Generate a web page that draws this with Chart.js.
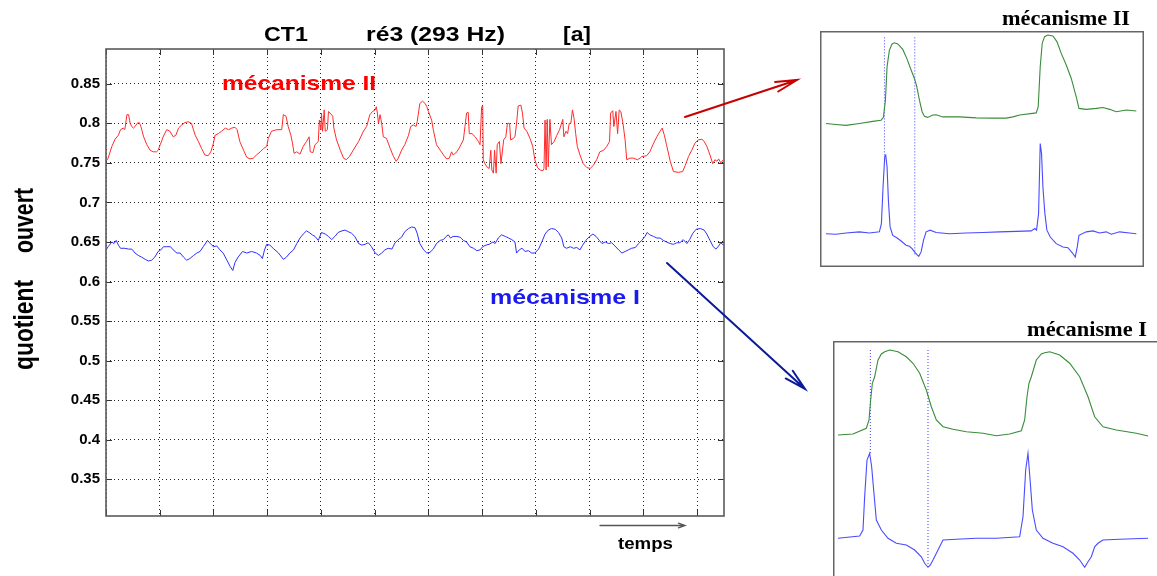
<!DOCTYPE html>
<html lang="fr">
<head>
<meta charset="utf-8">
<title>CT1 ré3 (293 Hz) – quotient ouvert</title>
<script src="https://cdn.jsdelivr.net/npm/chart.js@4.4.1/dist/chart.umd.min.js"></script>
<style>
  html, body { margin: 0; padding: 0; background: #fff; overflow: hidden; }
  #stage { position: relative; width: 1157px; height: 576px; overflow: hidden; }
  #stage canvas { position: absolute; }
  #main { left: 0; top: 0; }
  #insetII { left: 820px; top: 31px; }
  #insetI { left: 833px; top: 341px; }
</style>
</head>
<body>
<div id="stage">
  <canvas id="main" width="1157" height="576"></canvas>
  <canvas id="insetII" width="324" height="236"></canvas>
  <canvas id="insetI" width="340" height="250"></canvas>
</div>
<script>
// Quotient ouvert over time, [t (grid units), Oq]
const mecanismeII = [
  [0,0.752],[0.04,0.756],[0.11,0.771],[0.17,0.780],[0.23,0.785],[0.27,0.792],[0.32,0.794],[0.35,0.792],[0.39,0.811],[0.42,0.811],
  [0.45,0.800],[0.48,0.796],[0.51,0.794],[0.54,0.796],[0.58,0.800],[0.62,0.801],[0.65,0.796],[0.70,0.783],[0.76,0.773],[0.82,0.766],
  [0.88,0.764],[0.94,0.764],[0.97,0.766],[1.01,0.773],[1.07,0.784],[1.13,0.792],[1.19,0.790],[1.25,0.783],[1.30,0.785],[1.35,0.794],
  [1.41,0.798],[1.47,0.801],[1.53,0.802],[1.59,0.800],[1.66,0.785],[1.72,0.777],[1.78,0.768],[1.84,0.760],[1.90,0.759],[1.95,0.764],
  [2.00,0.775],[2.03,0.785],[2.09,0.787],[2.15,0.790],[2.22,0.794],[2.28,0.792],[2.34,0.794],[2.40,0.795],[2.44,0.792],[2.49,0.777],
  [2.56,0.766],[2.62,0.757],[2.68,0.755],[2.74,0.756],[2.80,0.760],[2.87,0.764],[2.93,0.768],[2.99,0.771],[3.02,0.781],[3.08,0.790],
  [3.18,0.792],[3.27,0.792],[3.30,0.811],[3.35,0.809],[3.39,0.796],[3.44,0.785],[3.47,0.775],[3.50,0.762],[3.55,0.764],[3.61,0.761],
  [3.67,0.771],[3.73,0.777],[3.78,0.783],[3.80,0.764],[3.85,0.763],[3.89,0.773],[3.95,0.777],[3.97,0.804],[4.00,0.792],[4.01,0.813],
  [4.03,0.790],[4.06,0.817],[4.08,0.790],[4.12,0.792],[4.14,0.815],[4.17,0.813],[4.22,0.809],[4.24,0.794],[4.29,0.779],[4.36,0.766],
  [4.42,0.756],[4.47,0.754],[4.53,0.758],[4.60,0.766],[4.70,0.777],[4.79,0.790],[4.85,0.796],[4.91,0.811],[4.96,0.815],[5.01,0.817],
  [5.03,0.821],[5.05,0.813],[5.07,0.800],[5.10,0.811],[5.13,0.800],[5.16,0.783],[5.22,0.781],[5.29,0.768],[5.35,0.758],[5.40,0.752],
  [5.44,0.756],[5.50,0.766],[5.56,0.773],[5.63,0.785],[5.67,0.796],[5.72,0.798],[5.77,0.796],[5.79,0.802],[5.84,0.825],[5.89,0.828],
  [5.94,0.825],[5.97,0.821],[6.00,0.815],[6.06,0.804],[6.09,0.792],[6.15,0.773],[6.22,0.766],[6.28,0.760],[6.34,0.755],[6.39,0.756],
  [6.43,0.764],[6.46,0.760],[6.53,0.764],[6.59,0.771],[6.65,0.779],[6.68,0.796],[6.71,0.813],[6.74,0.814],[6.76,0.787],[6.81,0.787],
  [6.87,0.783],[6.93,0.777],[6.96,0.773],[6.99,0.821],[7.01,0.822],[7.02,0.754],[7.05,0.749],[7.10,0.744],[7.13,0.743],[7.16,0.766],
  [7.18,0.741],[7.21,0.737],[7.23,0.766],[7.26,0.737],[7.28,0.773],[7.32,0.777],[7.35,0.749],[7.40,0.779],[7.44,0.783],[7.47,0.800],
  [7.51,0.800],[7.53,0.779],[7.58,0.781],[7.61,0.783],[7.64,0.800],[7.67,0.822],[7.72,0.823],[7.75,0.813],[7.78,0.794],[7.83,0.790],
  [7.89,0.781],[7.94,0.771],[7.98,0.754],[8.03,0.744],[8.08,0.741],[8.13,0.740],[8.15,0.743],[8.17,0.804],[8.19,0.741],[8.21,0.805],
  [8.23,0.745],[8.26,0.805],[8.29,0.773],[8.34,0.777],[8.39,0.785],[8.44,0.792],[8.50,0.805],[8.52,0.783],[8.56,0.790],[8.59,0.787],
  [8.62,0.800],[8.65,0.800],[8.68,0.817],[8.71,0.806],[8.74,0.787],[8.77,0.771],[8.82,0.760],[8.88,0.749],[8.95,0.744],[9.01,0.743],
  [9.07,0.747],[9.13,0.754],[9.19,0.764],[9.26,0.766],[9.32,0.771],[9.37,0.777],[9.39,0.813],[9.43,0.816],[9.45,0.796],[9.49,0.815],
  [9.52,0.787],[9.55,0.817],[9.58,0.815],[9.62,0.800],[9.66,0.779],[9.69,0.754],[9.75,0.756],[9.81,0.756],[9.89,0.754],[9.94,0.756],
  [9.97,0.758],[10.06,0.759],[10.12,0.764],[10.19,0.775],[10.25,0.783],[10.31,0.790],[10.35,0.794],[10.39,0.785],[10.43,0.773],[10.50,0.752],
  [10.56,0.739],[10.65,0.738],[10.73,0.739],[10.78,0.747],[10.84,0.758],[10.90,0.766],[10.96,0.775],[11.02,0.779],[11.09,0.780],[11.13,0.777],
  [11.18,0.771],[11.24,0.760],[11.29,0.749],[11.33,0.754],[11.37,0.752],[11.40,0.755],[11.44,0.750],[11.49,0.754]
];

const mecanismeI = [
  [0,0.640],[0.04,0.644],[0.11,0.650],[0.15,0.648],[0.19,0.652],[0.23,0.646],[0.27,0.642],[0.35,0.642],[0.42,0.641],[0.48,0.641],
  [0.54,0.636],[0.60,0.633],[0.66,0.631],[0.73,0.628],[0.79,0.626],[0.85,0.627],[0.91,0.631],[0.97,0.638],[1.02,0.640],[1.07,0.644],
  [1.13,0.644],[1.20,0.644],[1.25,0.640],[1.32,0.636],[1.38,0.636],[1.44,0.631],[1.50,0.627],[1.56,0.629],[1.63,0.633],[1.69,0.636],
  [1.75,0.638],[1.81,0.644],[1.89,0.652],[1.94,0.648],[2.00,0.644],[2.06,0.645],[2.12,0.640],[2.18,0.636],[2.25,0.627],[2.31,0.619],
  [2.36,0.614],[2.40,0.624],[2.46,0.631],[2.54,0.638],[2.62,0.636],[2.71,0.638],[2.80,0.636],[2.87,0.633],[2.91,0.629],[2.95,0.640],
  [2.99,0.647],[3.05,0.646],[3.11,0.642],[3.21,0.636],[3.30,0.628],[3.36,0.631],[3.42,0.636],[3.49,0.640],[3.55,0.648],[3.61,0.655],
  [3.67,0.660],[3.73,0.664],[3.78,0.662],[3.84,0.659],[3.89,0.657],[3.95,0.652],[4.01,0.662],[4.08,0.660],[4.14,0.657],[4.20,0.653],
  [4.26,0.657],[4.32,0.662],[4.39,0.664],[4.45,0.665],[4.51,0.663],[4.57,0.661],[4.63,0.657],[4.70,0.648],[4.76,0.646],[4.82,0.647],
  [4.88,0.649],[4.94,0.644],[5.01,0.636],[5.07,0.633],[5.13,0.636],[5.19,0.640],[5.25,0.642],[5.32,0.641],[5.38,0.649],[5.44,0.653],
  [5.50,0.656],[5.56,0.663],[5.63,0.667],[5.69,0.669],[5.75,0.668],[5.79,0.661],[5.84,0.648],[5.91,0.640],[5.97,0.636],[6.03,0.637],
  [6.09,0.641],[6.15,0.648],[6.22,0.652],[6.28,0.653],[6.33,0.657],[6.37,0.659],[6.41,0.655],[6.46,0.657],[6.53,0.657],[6.59,0.656],
  [6.65,0.652],[6.71,0.650],[6.77,0.644],[6.84,0.642],[6.90,0.639],[6.96,0.640],[7.01,0.644],[7.07,0.646],[7.13,0.647],[7.20,0.650],
  [7.24,0.648],[7.30,0.655],[7.36,0.659],[7.43,0.657],[7.49,0.655],[7.55,0.653],[7.61,0.650],[7.64,0.636],[7.69,0.640],[7.74,0.642],
  [7.80,0.638],[7.86,0.639],[7.92,0.636],[7.98,0.636],[8.05,0.641],[8.11,0.650],[8.17,0.660],[8.23,0.665],[8.29,0.667],[8.36,0.666],
  [8.42,0.662],[8.48,0.655],[8.52,0.644],[8.57,0.642],[8.64,0.644],[8.70,0.642],[8.76,0.643],[8.82,0.640],[8.87,0.646],[8.93,0.652],
  [9.00,0.657],[9.06,0.660],[9.12,0.657],[9.18,0.652],[9.23,0.648],[9.29,0.650],[9.35,0.648],[9.41,0.649],[9.47,0.645],[9.54,0.640],
  [9.60,0.636],[9.66,0.638],[9.72,0.640],[9.78,0.642],[9.85,0.643],[9.91,0.648],[9.97,0.652],[10.03,0.657],[10.07,0.662],[10.12,0.659],
  [10.19,0.657],[10.25,0.655],[10.31,0.655],[10.37,0.652],[10.43,0.650],[10.50,0.648],[10.56,0.647],[10.62,0.649],[10.68,0.649],[10.74,0.653],
  [10.81,0.648],[10.86,0.653],[10.92,0.661],[10.98,0.666],[11.06,0.667],[11.13,0.665],[11.18,0.660],[11.24,0.652],[11.30,0.644],[11.35,0.641],
  [11.40,0.645],[11.44,0.649],[11.49,0.646]
];

// EGG (green) and DEGG (blue) over two glottal cycles, arbitrary units 0..100
const eggII = [
  [1.85,60.8],[4.94,60.4],[8.03,60.0],[12.15,60.8],[16.27,61.7],[18.85,62.2],[19.57,63.4],[20.19,70.7],[20.70,84.9],[21.42,91.9],
  [22.25,94.5],[22.97,95.0],[24.00,94.5],[25.54,92.2],[26.78,88.4],[28.12,83.5],[29.15,79.9],[29.87,76.4],[30.69,70.7],[31.51,65.8],
  [32.23,63.9],[33.26,63.4],[34.81,64.4],[35.84,64.5],[37.90,63.6],[43.05,63.6],[48.20,63.2],[53.35,63.1],[57.47,63.1],[59.53,63.6],
  [61.59,64.4],[66.74,65.3],[67.35,67.9],[67.97,84.9],[68.59,94.8],[69.31,97.6],[70.34,98.3],[71.88,97.9],[73.12,95.5],[74.46,90.5],
  [76.00,85.6],[77.55,79.9],[79.09,72.1],[79.92,67.2],[82.18,66.8],[85.27,67.2],[87.33,67.6],[89.39,66.8],[91.45,65.8],[94.54,66.5],
  [97.63,66.1]
];
const deggII = [
  [1.85,14.1],[4.94,13.9],[8.03,14.4],[12.15,14.9],[15.24,14.4],[18.33,14.9],[18.95,18.4],[19.46,33.9],[19.98,46.7],[20.29,47.4],
  [20.70,42.4],[21.11,28.3],[21.63,17.0],[22.45,13.4],[23.69,12.4],[25.03,11.0],[26.57,9.2],[27.60,8.8],[28.42,7.8],[29.15,6.4],
  [29.87,5.4],[30.48,4.5],[31.21,6.4],[31.93,11.3],[32.75,14.9],[33.99,15.6],[35.84,14.6],[39.96,14.1],[45.11,14.4],[50.26,14.6],
  [55.41,14.9],[60.56,15.1],[65.19,15.3],[66.32,16.3],[66.84,15.6],[67.46,22.6],[67.97,52.3],[68.38,48.1],[68.80,33.9],[69.41,22.6],
  [70.03,15.6],[71.06,12.7],[72.91,9.9],[74.97,8.5],[76.52,8.2],[78.06,5.7],[78.78,4.2],[79.40,8.5],[79.92,13.4],[82.18,14.9],
  [84.24,15.3],[86.30,14.4],[88.36,14.9],[89.91,13.9],[92.48,14.9],[95.57,14.4],[97.63,14.1]
];
// closing / opening instants: [t, top, bottom]
const instantsII = [[19.88, 97.3, 46.7], [29.25, 97.3, 5.0]];

const eggI = [
  [1.47,62.4],[5.88,62.8],[9.80,65.1],[10.59,68.4],[11.08,76.4],[11.57,83.1],[12.25,85.7],[13.24,92.4],[14.22,94.8],[15.20,95.7],
  [16.67,96.4],[19.12,95.7],[21.57,93.7],[23.53,91.1],[25.49,87.1],[27.45,80.4],[28.92,73.7],[30.39,68.4],[32.35,65.7],[35.29,64.7],
  [39.22,63.7],[44.12,63.1],[48.04,62.1],[51.96,62.8],[55.39,64.1],[56.37,68.4],[57.06,77.7],[57.65,83.1],[58.33,85.7],[59.80,92.4],
  [61.27,94.8],[62.25,95.3],[63.73,95.7],[66.67,94.4],[69.61,91.1],[72.55,85.7],[75.00,77.7],[76.96,69.7],[79.41,65.7],[83.33,64.4],
  [89.22,63.1],[92.65,62.0]
];
const deggI = [
  [1.47,21.1],[7.84,22.0],[8.82,24.4],[9.31,37.7],[10.00,52.4],[10.78,55.1],[11.37,49.7],[11.96,40.4],[12.75,28.4],[14.22,24.4],
  [16.18,21.1],[18.63,19.1],[21.57,18.4],[24.02,16.4],[25.98,13.7],[26.96,11.1],[27.94,9.5],[28.63,10.4],[29.41,12.4],[30.88,16.4],
  [32.35,20.4],[36.27,20.7],[42.16,21.1],[48.04,21.1],[54.90,21.7],[55.88,29.7],[56.67,48.4],[57.35,55.1],[58.04,43.1],[58.63,32.4],
  [59.80,24.4],[61.76,21.1],[64.71,19.1],[67.65,17.7],[70.59,15.1],[72.55,12.4],[74.02,9.5],[75.00,11.7],[75.98,13.7],[76.96,17.7],
  [77.94,19.1],[79.41,20.4],[84.31,20.7],[92.65,21.1]
];
const instantsI = [[10.98, 96.4, 55.1], [27.94, 96.4, 9.7]];

const Y_MIN = 0.3035, Y_MAX = 0.894, Y_STEP = 0.05;
const T_MAX = 11.5;

const SANS = '"Liberation Sans", Arial, Helvetica, sans-serif';
const SERIF = '"Liberation Serif", "Times New Roman", serif';

const toXY = (pts) => pts.map(([x, y]) => ({ x, y }));

// draw text stretched to a target width (the figure's fonts run wide)
function fitText(ctx, text, x, y, width, font, color, opts = {}) {
  ctx.save();
  ctx.font = font;
  ctx.fillStyle = color;
  ctx.textBaseline = 'alphabetic';
  ctx.textAlign = 'left';
  const w = ctx.measureText(text).width;
  ctx.translate(x, y);
  if (opts.rotate) ctx.rotate(opts.rotate);
  ctx.scale(width / w, opts.sy || 1);
  ctx.fillText(text, 0, 0);
  ctx.restore();
}

function arrow(ctx, x1, y1, x2, y2, color, lw, head, spread) {
  const a = Math.atan2(y1 - y2, x1 - x2);
  ctx.save();
  ctx.strokeStyle = color;
  ctx.lineWidth = lw;
  ctx.lineCap = 'round';
  ctx.beginPath();
  ctx.moveTo(x1, y1);
  ctx.lineTo(x2, y2);
  ctx.moveTo(x2 + head * Math.cos(a + spread), y2 + head * Math.sin(a + spread));
  ctx.lineTo(x2, y2);
  ctx.lineTo(x2 + head * Math.cos(a - spread), y2 + head * Math.sin(a - spread));
  ctx.stroke();
  ctx.restore();
}

// box round the axes, with matlab-style inward ticks
const framePlugin = {
  id: 'frame',
  afterDatasetsDraw(chart) {
    const { ctx, chartArea: a, scales } = chart;
    ctx.save();
    ctx.strokeStyle = '#333';
    ctx.lineWidth = 1;
    ctx.beginPath();
    scales.y.ticks.forEach((t) => {
      const y = Math.round(scales.y.getPixelForValue(t.value)) + 0.5;
      ctx.moveTo(a.left, y); ctx.lineTo(a.left + 6, y);
      ctx.moveTo(a.right, y); ctx.lineTo(a.right - 6, y);
    });
    scales.x.ticks.forEach((t) => {
      const x = Math.round(scales.x.getPixelForValue(t.value)) + 0.5;
      ctx.moveTo(x, a.top); ctx.lineTo(x, a.top + 6);
      ctx.moveTo(x, a.bottom); ctx.lineTo(x, a.bottom - 6);
    });
    ctx.stroke();
    ctx.strokeStyle = '#5a5a5a';
    ctx.lineWidth = 1.6;
    ctx.strokeRect(a.left, a.top, a.right - a.left, a.bottom - a.top);
    ctx.restore();
  },
};

// titles, labels and pointer arrows
const notesPlugin = {
  id: 'notes',
  afterDraw(chart) {
    const { ctx } = chart;
    const bold = (px) => `bold ${px}px ${SANS}`;

    fitText(ctx, 'CT1', 264, 41, 44, bold(20), '#000');
    fitText(ctx, 'ré3 (293 Hz)', 366, 41, 139, bold(20), '#000');
    fitText(ctx, '[a]', 563, 41, 28, bold(20), '#000');

    fitText(ctx, 'mécanisme II', 222, 89.5, 154, bold(21), '#ff0000');
    fitText(ctx, 'mécanisme I', 490, 304, 150, bold(21), '#1a1aee');

    fitText(ctx, 'ouvert', 33, 253, 65, bold(21), '#000', { rotate: -Math.PI / 2, sy: 1.3 });
    fitText(ctx, 'quotient', 33, 370, 90, bold(21), '#000', { rotate: -Math.PI / 2, sy: 1.3 });

    fitText(ctx, 'temps', 618, 549, 55, bold(16), '#000');
    arrow(ctx, 600, 525.5, 685, 525.5, '#555', 1.3, 7, 0.35);

    fitText(ctx, 'mécanisme II', 1002, 25, 128, `bold 20px ${SERIF}`, '#000');
    fitText(ctx, 'mécanisme I', 1027, 336, 120, `bold 20px ${SERIF}`, '#000');

    arrow(ctx, 685, 117, 797, 80, '#c80000', 2, 22, 0.23);
    arrow(ctx, 667, 263, 805, 389, '#0c1a9a', 2, 22, 0.24);
  },
};

new Chart(document.getElementById('main'), {
  type: 'line',
  data: {
    datasets: [
      { data: toXY(mecanismeII), borderColor: '#ff2b2b', borderWidth: 1, pointRadius: 0, tension: 0 },
      { data: toXY(mecanismeI), borderColor: '#2e2eff', borderWidth: 1, pointRadius: 0, tension: 0 },
    ],
  },
  options: {
    responsive: false,
    animation: false,
    devicePixelRatio: 1,
    layout: { padding: { left: 0, top: 49, right: 433, bottom: 60 } },
    plugins: { legend: { display: false }, tooltip: { enabled: false } },
    scales: {
      x: {
        type: 'linear',
        min: 0,
        max: T_MAX,
        afterFit: (s) => { s.height = 0; },
        ticks: { display: false, stepSize: 1, includeBounds: false },
        grid: { color: '#222', lineWidth: 1, drawTicks: false },
        border: { display: false, dash: [1, 3] },
      },
      y: {
        min: Y_MIN,
        max: Y_MAX,
        afterFit: (s) => { s.width = 106; },
        ticks: {
          stepSize: Y_STEP,
          includeBounds: false,
          padding: 6,
          color: '#000',
          font: { family: SANS, size: 15, weight: 'bold' },
          callback: (v) => String(Number(v.toFixed(2))),
        },
        grid: { color: '#222', lineWidth: 1, drawTicks: false },
        border: { display: false, dash: [1, 3] },
      },
    },
  },
  plugins: [framePlugin, notesPlugin],
});

const insetFrame = {
  id: 'insetFrame',
  afterDraw(chart) {
    const { ctx, width, height } = chart;
    ctx.save();
    ctx.strokeStyle = '#666';
    ctx.lineWidth = 1.5;
    ctx.strokeRect(0.75, 0.75, width - 1.5, height - 1.5);
    ctx.restore();
  },
};

function insetChart(id, egg, degg, instants) {
  const trace = (pts, color) => ({ data: toXY(pts), borderColor: color, borderWidth: 1.1, pointRadius: 0, tension: 0 });
  return new Chart(document.getElementById(id), {
    type: 'line',
    data: {
      datasets: [
        trace(egg, '#3a8c3a'),
        trace(degg, '#4a4aff'),
        ...instants.map(([t, top, bottom]) => ({
          data: [{ x: t, y: top }, { x: t, y: bottom }],
          borderColor: '#3c3cff',
          borderWidth: 1,
          borderDash: [1, 2],
          pointRadius: 0,
        })),
      ],
    },
    options: {
      responsive: false,
      animation: false,
      devicePixelRatio: 1,
      layout: { padding: 0 },
      plugins: { legend: { display: false }, tooltip: { enabled: false } },
      scales: {
        x: { type: 'linear', display: false, min: 0, max: 100 },
        y: { display: false, min: 0, max: 100 },
      },
    },
    plugins: [insetFrame],
  });
}

insetChart('insetII', eggII, deggII, instantsII);
insetChart('insetI', eggI, deggI, instantsI);
</script>
</body>
</html>
